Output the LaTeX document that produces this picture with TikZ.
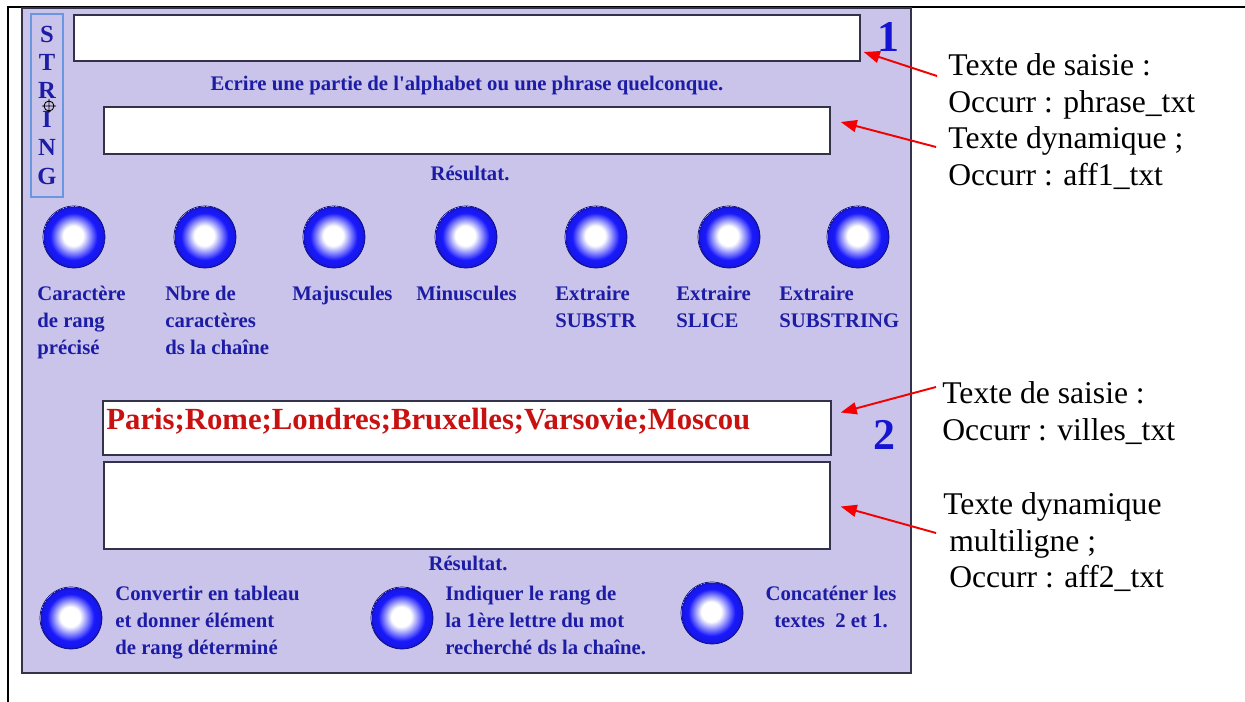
\documentclass[tikz,border=0pt]{standalone}
\usepackage{fontspec}
\setmainfont{Liberation Serif}
\usetikzlibrary{positioning,fit,arrows.meta,shapes}
\definecolor{lavande}{RGB}{203,196,234}
\definecolor{bleutexte}{RGB}{28,28,165}
\definecolor{bleuchiffre}{RGB}{20,20,210}
\definecolor{bleuvif}{RGB}{25,25,252}
\definecolor{rougetexte}{RGB}{200,18,18}
\definecolor{rougefleche}{RGB}{245,0,0}
\definecolor{bordure}{RGB}{50,50,75}
\definecolor{bordtitre}{RGB}{105,150,225}
\pgfdeclareradialshading{boule}{\pgfpoint{-1bp}{1.5bp}}{color(0bp)=(white); color(8bp)=(white); color(19bp)=(bleuvif); color(23.5bp)=(bleuvif!92!black); color(25bp)=(bleuvif!72!black)}
\tikzstyle{champ} = [draw=bordure,fill=white,line width=0.85pt,inner sep=0pt]
\tikzstyle{bouton} = [circle,minimum size=1.24cm,inner sep=0pt,shading=boule,draw=bleuvif!50!black,line width=0.4pt]
\tikzstyle{etiquette} = [font=\bfseries\fontsize{11.8}{15.3}\selectfont,text=bleutexte,align=left,anchor=north west,inner sep=0pt]
\tikzstyle{titre} = [font=\bfseries\fontsize{11.8}{15.3}\selectfont,text=bleutexte,anchor=base,inner sep=0pt]
\tikzstyle{note} = [font=\fontsize{18}{20.7}\selectfont,align=left,anchor=north west,inner sep=0pt]
\tikzstyle{numero} = [font=\bfseries\fontsize{25}{30}\selectfont,text=bleuchiffre,anchor=base,inner sep=0pt]
\tikzstyle{fleche} = [-{Triangle[length=0.32cm,width=0.24cm]},draw=rougefleche,line width=1.1pt]

\begin{document}
\begin{tikzpicture}[x=0.02cm,y=-0.02cm]
  \useasboundingbox (0,0) rectangle (1245,702);
  % cadre
  \draw[line width=1.2pt] (8,702) -- (8,7) -- (1245,7);
  \draw[fill=lavande,draw=bordure,line width=0.7pt] (22,8) rectangle (911,673);

  % bandeau STRING
  \node[draw=bordtitre,line width=0.6pt,inner sep=0pt,fit={(31,14) (63,197)}] (bandeau) {};
  \node[font=\bfseries\fontsize{14}{16.16}\selectfont,text=bleutexte,align=center,anchor=north,inner sep=0pt] (string) at (47,25.5) {S\\T\\R\\I\\N\\G};
  \draw[line width=0.5pt] (49,106) circle (0.1cm) (42,106) -- (56,106) (49,99) -- (49,113);

  % zone 1
  \node[champ,fit={(74,15) (860,61)}] (champ1) {};
  \node[numero] (un) at (888,52) {1};
  \node[titre] (consigne) at (467,91) {Ecrire une partie de l\textquotesingle alphabet ou une phrase quelconque.};
  \node[champ,fit={(104,107) (830,154)}] (champ2) {};
  \node[titre] (resultat1) at (470,181) {Résultat.};

  \foreach \x [count=\i] in {74,205,334,466,596,729,858}
    \node[bouton] (b\i) at (\x,237) {};

  \node[etiquette] (lab1) at (37,286) {Caractère\\de rang\\précisé};
  \node[etiquette] (lab2) at (165,286) {Nbre de\\caractères\\ds la chaîne};
  \node[etiquette] (lab3) at (292,286) {Majuscules};
  \node[etiquette] (lab4) at (416,286) {Minuscules};
  \node[etiquette] (lab5) at (555,286) {Extraire\\SUBSTR};
  \node[etiquette] (lab6) at (676,286) {Extraire\\SLICE};
  \node[etiquette] (lab7) at (779,286) {Extraire\\SUBSTRING};

  % zone 2
  \node[champ,fit={(103,401) (831,455)}] (champ3) {};
  \node[font=\bfseries\fontsize{17.5}{20}\selectfont,text=rougetexte,anchor=base west,inner sep=0pt] (villes) at (106,430) {Paris;Rome;Londres;Bruxelles;Varsovie;Moscou};
  \node[numero] (deux) at (884,450) {2};
  \node[champ,fit={(104,462) (830,549)}] (champ4) {};
  \node[titre] (resultat2) at (468,571) {Résultat.};

  \node[bouton] (b8) at (71,618) {};
  \node[bouton] (b9) at (402,618) {};
  \node[bouton] (b10) at (712,613) {};
  \node[etiquette] (lab8) at (115,586) {Convertir en tableau\\et donner élément\\de rang déterminé};
  \node[etiquette] (lab9) at (445,586) {Indiquer le rang de\\la 1ère lettre du mot\\recherché ds la chaîne.};
  \node[etiquette,align=center,anchor=north] (lab10) at (831,586) {Concaténer les\\textes~ 2 et 1.};

  % annotations
  \node[note] (noteA) at (948,53.5) {Texte de saisie :\\Occurr : phrase\_txt};
  \node[note] (noteB) at (948,126.5) {Texte dynamique ;\\Occurr : aff1\_txt};
  \node[note] (noteC) at (942,381.5) {Texte de saisie :\\Occurr : villes\_txt};
  \node[note] (noteD) at (943,492.5) {Texte dynamique\\\hspace{3.4pt}multiligne ;\\\hspace{3.4pt}Occurr : aff2\_txt};

  \coordinate (depA) at (937,76);
  \coordinate (depB) at (936,147);
  \coordinate (depC) at (936,387);
  \coordinate (depD) at (936,533);
  \draw[fleche] (depA) -- ([shift={(3,14)}]champ1.east);
  \draw[fleche] (depB) -- ([shift={(10,-8.5)}]champ2.east);
  \draw[fleche] (depC) -- ([shift={(9,-15.5)}]champ3.east);
  \draw[fleche] (depD) -- ([shift={(10,1)}]champ4.east);
\end{tikzpicture}
\end{document}
